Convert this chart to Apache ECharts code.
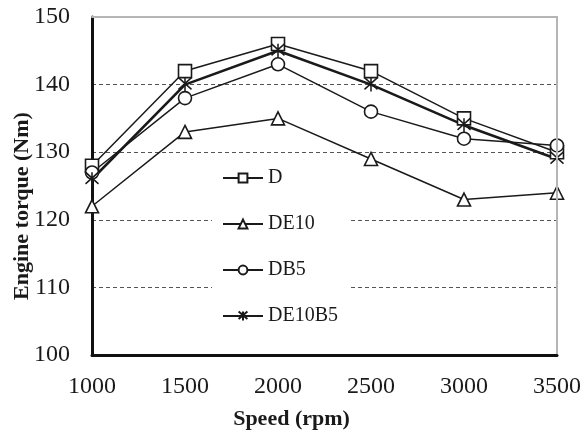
<!DOCTYPE html>
<html>
<head>
<meta charset="utf-8">
<script src="https://cdn.jsdelivr.net/npm/echarts@6/dist/echarts.min.js"></script>
<style>
  html, body { margin: 0; padding: 0; background: #fff; }
  #chart { width: 583px; height: 439px; }
</style>
</head>
<body>
<div id="chart"></div>
<script>
var speeds = [1000, 1500, 2000, 2500, 3000, 3500];
var torqueD = [128, 142, 146, 142, 135, 130];
var torqueDE10 = [122, 133, 135, 129, 123, 124];
var torqueDB5 = [127, 138, 143, 136, 132, 131];
var torqueDE10B5 = [126, 140, 145, 140, 134, 129];
var yTicks = [100, 110, 120, 130, 140, 150];

var serif = '"Liberation Serif", "Times New Roman", serif';
var asterisk = 'path://M0,0 L10,10 M10,0 L0,10 M5,0 L5,12';

function pairs(vals) {
    return speeds.map(function (s, i) { return [s, vals[i]]; });
}

function makeSeries(name, vals, symbol, width) {
    var isStar = symbol === asterisk;
    return {
        name: name,
        type: 'line',
        data: pairs(vals),
        symbol: symbol,
        symbolSize: isStar ? [13, 14] : 13,
        showAllSymbol: true,
        lineStyle: { color: '#1a1a1a', width: width },
        itemStyle: {
            color: isStar ? 'none' : '#fff',
            borderColor: '#1a1a1a',
            borderWidth: 1.6
        },
        emphasis: { disabled: true },
        z: 3
    };
}

// plain frame axes (top and right), drawn above the dashed split lines
var frameAxis = {
    show: true,
    axisLine: { show: true, onZero: false, lineStyle: { color: '#b5b5b5', width: 2 } },
    axisTick: { show: false },
    axisLabel: { show: false },
    splitLine: { show: false },
    z: 6
};

var chart = echarts.init(document.getElementById('chart'));
chart.setOption({
    animation: false,
    backgroundColor: '#fff',
    grid: { left: 92, right: 26, top: 17, bottom: 84, outerBoundsMode: 'none', containLabel: false },
    legend: {
        orient: 'vertical',
        left: 212, top: 160,
        backgroundColor: '#fff',
        padding: [8, 10, 8, 10],
        itemGap: 26,
        itemWidth: 40,
        itemHeight: 11,
        textStyle: { fontFamily: serif, fontSize: 20, color: '#1a1a1a' },
        data: ['D', 'DE10', 'DB5', 'DE10B5'],
        z: 10
    },
    xAxis: [{
        type: 'value',
        min: 1000, max: 3500, interval: 500,
        name: 'Speed (rpm)',
        nameLocation: 'middle',
        nameGap: 53,
        nameMoveOverlap: false,
        nameTextStyle: {
            fontFamily: serif, fontSize: 22, fontWeight: 'bold', color: '#1a1a1a',
            padding: [0, 66, 0, 0]
        },
        axisLine: { onZero: false, lineStyle: { color: '#111', width: 3 } },
        axisTick: { show: false },
        axisLabel: {
            fontFamily: serif, fontSize: 24, color: '#1a1a1a', margin: 20,
            formatter: function (v) { return String(v); }
        },
        splitLine: { show: false },
        z: 7
    }, Object.assign({ type: 'value', position: 'top', min: 1000, max: 3500 }, frameAxis)],
    yAxis: [{
        type: 'value',
        min: yTicks[0], max: yTicks[yTicks.length - 1], interval: 10,
        name: 'Engine torque (Nm)',
        nameLocation: 'middle',
        nameGap: 59,
        nameMoveOverlap: false,
        nameTextStyle: {
            fontFamily: serif, fontSize: 22, fontWeight: 'bold', color: '#1a1a1a',
            padding: [0, 40, 0, 0]
        },
        axisLine: { show: true, onZero: false, lineStyle: { color: '#111', width: 3 } },
        axisTick: { show: false },
        axisLabel: { fontFamily: serif, fontSize: 24, color: '#1a1a1a', margin: 22 },
        splitLine: { show: true, lineStyle: { color: '#555', width: 1, type: [4, 3] } },
        z: 1
    }, Object.assign({ type: 'value', position: 'right', min: 100, max: 150 }, frameAxis)],
    series: [
        makeSeries('D', torqueD, 'rect', 1.5),
        makeSeries('DE10', torqueDE10, 'triangle', 1.5),
        makeSeries('DB5', torqueDB5, 'circle', 1.5),
        makeSeries('DE10B5', torqueDE10B5, asterisk, 2.6)
    ]
});
</script>
</body>
</html>
